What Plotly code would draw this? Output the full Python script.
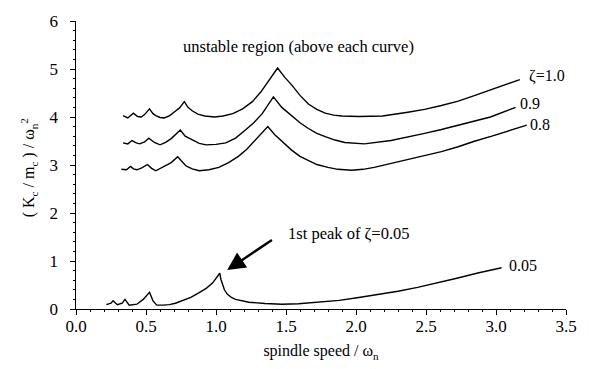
import plotly.graph_objects as go

# Stability lobe boundaries: critical stiffness ratio vs. spindle speed
speed_z10 = [0.336, 0.37, 0.41, 0.44, 0.466, 0.49, 0.525, 0.55, 0.57, 0.60, 0.63, 0.67,
             0.70, 0.74, 0.774, 0.80, 0.83, 0.87, 0.92, 0.99, 1.05, 1.12, 1.19, 1.26,
             1.32, 1.38, 1.44, 1.49, 1.54, 1.60, 1.66, 1.72, 1.78, 1.84, 1.90, 2.02,
             2.19, 2.37, 2.49, 2.61, 2.73, 2.84, 3.00, 3.17]
stiff_z10 = [4.03, 3.98, 4.08, 4.01, 4.00, 4.05, 4.17, 4.07, 4.03, 3.99, 3.98, 4.03,
             4.10, 4.19, 4.32, 4.20, 4.13, 4.06, 4.02, 4.00, 4.02, 4.07, 4.17, 4.32,
             4.52, 4.76, 5.02, 4.83, 4.67, 4.45, 4.27, 4.16, 4.08, 4.04, 4.02, 4.01,
             4.02, 4.10, 4.16, 4.24, 4.33, 4.44, 4.60, 4.78]

speed_z09 = [0.336, 0.37, 0.40, 0.43, 0.455, 0.49, 0.52, 0.56, 0.60, 0.64, 0.68, 0.745,
             0.78, 0.83, 0.88, 0.93, 1.00, 1.07, 1.14, 1.21, 1.27, 1.33, 1.41, 1.47,
             1.54, 1.60, 1.66, 1.72, 1.78, 1.85, 1.92, 2.06, 2.25, 2.37, 2.49, 2.61,
             2.73, 2.85, 2.96, 3.14]
stiff_z09 = [3.46, 3.44, 3.51, 3.46, 3.44, 3.48, 3.56, 3.47, 3.42, 3.47, 3.55, 3.73,
             3.60, 3.52, 3.45, 3.42, 3.43, 3.46, 3.56, 3.73, 3.88, 4.07, 4.42, 4.20,
             4.03, 3.88, 3.76, 3.66, 3.59, 3.52, 3.47, 3.44, 3.51, 3.58, 3.66, 3.74,
             3.83, 3.91, 4.00, 4.20]

speed_z08 = [0.324, 0.36, 0.39, 0.41, 0.435, 0.47, 0.51, 0.54, 0.57, 0.64, 0.68, 0.726,
             0.76, 0.786, 0.83, 0.88, 0.95, 1.02, 1.09, 1.16, 1.22, 1.28, 1.33, 1.37,
             1.42, 1.48, 1.54, 1.60, 1.66, 1.72, 1.80, 1.87, 1.97, 2.05, 2.13, 2.25,
             2.37, 2.49, 2.61, 2.73, 2.84, 2.97, 3.10, 3.22]
stiff_z08 = [2.91, 2.90, 2.97, 2.92, 2.90, 2.94, 3.01, 2.93, 2.88, 2.98, 3.05, 3.17,
             3.06, 2.98, 2.92, 2.88, 2.90, 2.95, 3.05, 3.18, 3.33, 3.52, 3.66, 3.80,
             3.63, 3.46, 3.31, 3.18, 3.09, 3.01, 2.95, 2.91, 2.89, 2.91, 2.95, 3.03,
             3.12, 3.20, 3.28, 3.38, 3.49, 3.60, 3.72, 3.83]

speed_z005 = [0.217, 0.25, 0.265, 0.295, 0.33, 0.35, 0.38, 0.435, 0.48, 0.525, 0.55,
              0.577, 0.62, 0.667, 0.71, 0.76, 0.82, 0.88, 0.93, 0.975, 1.027, 1.035,
              1.045, 1.06, 1.08, 1.11, 1.14, 1.19, 1.235, 1.35, 1.47, 1.59, 1.73, 1.88,
              2.02, 2.16, 2.30, 2.44, 2.58, 2.72, 2.87, 3.04]
stiff_z005 = [0.09, 0.12, 0.17, 0.09, 0.12, 0.20, 0.08, 0.10, 0.20, 0.35, 0.17,
              0.08, 0.08, 0.09, 0.12, 0.17, 0.24, 0.34, 0.43, 0.54, 0.745, 0.62,
              0.52, 0.40, 0.31, 0.24, 0.20, 0.16, 0.14, 0.115, 0.10, 0.11, 0.14, 0.18,
              0.24, 0.30, 0.37, 0.45, 0.54, 0.64, 0.75, 0.86]

curve_labels = ["ζ=1.0", "0.9", "0.8", "0.05"]
label_pos = [(3.22, 4.85), (3.16, 4.28), (3.23, 3.85), (3.08, 0.90)]

FONT = "Liberation Serif"

fig = go.Figure()
for xs, ys in [(speed_z10, stiff_z10), (speed_z09, stiff_z09),
               (speed_z08, stiff_z08), (speed_z005, stiff_z005)]:
    fig.add_trace(go.Scatter(x=xs, y=ys, mode="lines",
                             line=dict(color="black", width=1.4),
                             showlegend=False, hoverinfo="skip"))

annotations = []
for text, (lx, ly) in zip(curve_labels, label_pos):
    annotations.append(dict(x=lx, y=ly, text=text, showarrow=False,
                            xanchor="left", yanchor="middle",
                            font=dict(family=FONT, size=16, color="black")))

annotations.append(dict(x=1.59, y=5.46,
                        text="unstable region (above each curve)", showarrow=False,
                        xanchor="center", yanchor="middle",
                        font=dict(family=FONT, size=16.5, color="black")))
annotations.append(dict(x=1.95, y=1.57, text="1st peak of ζ=0.05", showarrow=False,
                        xanchor="center", yanchor="middle",
                        font=dict(family=FONT, size=16.5, color="black")))
annotations.append(dict(x=1.08, y=0.81, ax=1.41, ay=1.46, axref="x", ayref="y",
                        xref="x", yref="y", text="", showarrow=True,
                        arrowhead=2, arrowsize=1.5, arrowwidth=2.4, arrowcolor="black"))

# y-axis title placed by hand, close to the tick labels
annotations.append(dict(xref="paper", yref="paper", x=-0.097, y=0.49,
                        xanchor="center", yanchor="middle", textangle=-90,
                        text="( K<sub>c</sub> / m<sub>c</sub> ) / ω<sub>n</sub><sup>2</sup>",
                        showarrow=False,
                        font=dict(family=FONT, size=16, color="black")))

fig.update_layout(
    width=589, height=369,
    margin=dict(l=76, r=20, t=15, b=59),
    paper_bgcolor="white", plot_bgcolor="white",
    font=dict(family=FONT, size=17, color="black"),
    annotations=annotations,
    xaxis=dict(range=[0, 3.5], dtick=0.5, tickformat=".1f",
               showgrid=False, zeroline=False, showline=True, linecolor="black",
               linewidth=1.2, ticks="outside", ticklen=5, tickwidth=1.2,
               tickcolor="black", ticklabelstandoff=-4,
               minor=dict(dtick=0.1, ticks="outside", ticklen=2, tickcolor="black"),
               title=dict(text="spindle speed / ω<sub>n</sub>",
                          font=dict(family=FONT, size=16), standoff=10)),
    yaxis=dict(range=[0, 6], dtick=1, ticksuffix="\u2002",
               showgrid=False, zeroline=False, showline=True, linecolor="black",
               linewidth=1.2, ticks="outside", ticklen=5, tickwidth=1.2,
               tickcolor="black",
               minor=dict(dtick=0.2, ticks="outside", ticklen=2, tickcolor="black")),
)

fig.write_html("out.html")
